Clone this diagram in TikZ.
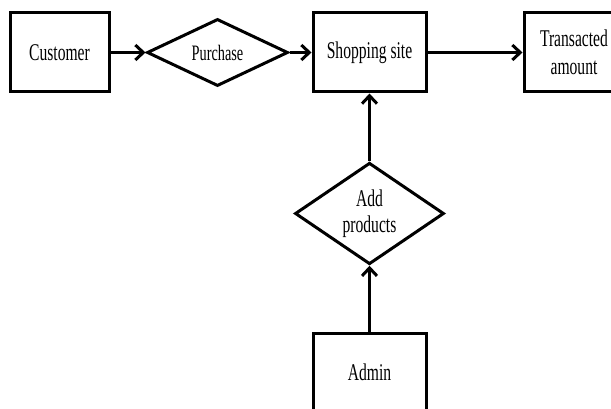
\documentclass[tikz,border=0pt]{standalone}
\usepackage{fontspec}
\setmainfont[FakeStretch=0.65]{Liberation Serif}
\usetikzlibrary{shapes.geometric}
\usetikzlibrary{arrows.meta}
\tikzset{
  every node/.style={font=\fontsize{24}{28}\selectfont},
  entity/.style={draw,line width=3pt,minimum width=113pt,minimum height=79pt,inner sep=0pt,align=center},
  relation/.style={draw,diamond,line width=3pt,inner sep=0pt,align=center},
  link/.style={draw,line width=3pt,-{Straight Barb[length=8pt,width=15pt]}}}

\begin{document}
\begin{tikzpicture}[x=1pt,y=-1pt]
  \useasboundingbox (0,0) rectangle (611,409);
  \clip (0,0) rectangle (611,409);
  \node [entity,minimum width=99pt] (customer) at (59.5,52.5) {Customer};
  \node [relation,minimum width=141pt,minimum height=63pt,font=\fontsize{22}{26}\selectfont] (purchase) at (217.5,52.5) {Purchase};
  \node [entity] (site) at (369.5,52.5) {Shopping site};
  \node [entity,minimum width=100pt] (amount) at (574,52.5) {Transacted\\amount};
  \node [relation,minimum width=149pt,minimum height=97pt,font=\fontsize{24}{26}\selectfont] (addprod) at (369.5,213.5) {Add\\products};
  \node [entity] (admin) at (369.5,372.5) {Admin};
  \draw [link] (customer) -- (purchase);
  \draw [link] (purchase) -- (site);
  \draw [link] (site) -- (amount);
  \draw [link] (addprod) -- (site);
  \draw [link] (admin) -- (addprod);
\end{tikzpicture}
\end{document}
